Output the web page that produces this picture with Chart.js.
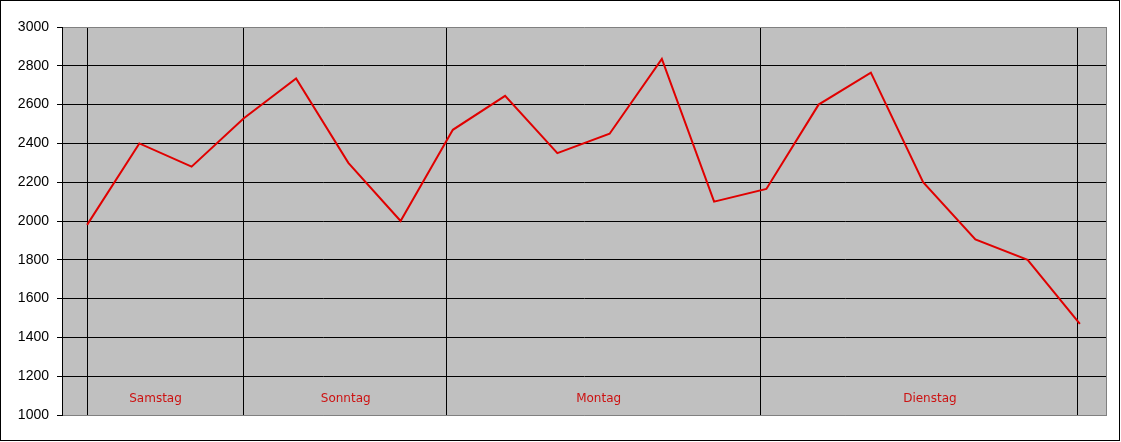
<!DOCTYPE html>
<html>
<head>
<meta charset="utf-8">
<script src="https://cdn.jsdelivr.net/npm/chart.js@4/dist/chart.umd.min.js"></script>
<style>
    html, body { margin: 0; padding: 0; background: #fff; }
    #wrap { width: 1121px; height: 442px; position: relative; }
</style>
</head>
<body>
<div id="wrap"><canvas id="chart" width="1121" height="442"></canvas></div>
<script>
// values, one per point (x = point index)
const values = [1980, 2400, 2280, 2530, 2735, 2300, 2000, 2470, 2645, 2350,
                2450, 2835, 2100, 2165, 2600, 2765, 2200, 1905, 1800, 1470];

// day separators and day labels, in point-index units
const dayBounds = [0, 3, 6.87, 12.88, 18.96];
const dayNames = ['Samstag', 'Sonntag', 'Montag', 'Dienstag'];
const dayLabelX = [1.31, 4.95, 9.79, 16.13];
const dayLabelY = 1085;

const yTicks = [1000, 1200, 1400, 1600, 1800, 2000, 2200, 2400, 2600, 2800, 3000];

const plotBg = {
    id: 'plotBg',
    beforeDraw(chart) {
        const { ctx, chartArea: a } = chart;
        ctx.save();
        ctx.fillStyle = '#fff';
        ctx.fillRect(0, 0, chart.width, chart.height);
        ctx.fillStyle = '#c0c0c0';
        ctx.fillRect(a.left, a.top, a.right - a.left, a.bottom - a.top);
        ctx.restore();
    },
    afterDraw(chart) {
        const { ctx, chartArea: a } = chart;
        ctx.save();
        // right edge of the plot
        ctx.strokeStyle = '#808080';
        ctx.lineWidth = 1;
        ctx.beginPath();
        ctx.moveTo(Math.round(a.right) + 0.5, a.top);
        ctx.lineTo(Math.round(a.right) + 0.5, a.bottom);
        ctx.stroke();
        // outer frame
        ctx.strokeStyle = '#000';
        ctx.strokeRect(0.5, 0.5, chart.width - 2, chart.height - 2);
        ctx.restore();
    }
};

const dayLabels = {
    id: 'dayLabels',
    afterDatasetsDraw(chart) {
        const { ctx, scales: { x, y } } = chart;
        ctx.save();
        ctx.font = '12px "DejaVu Sans"';
        ctx.fillStyle = '#cc1111';
        ctx.textAlign = 'center';
        ctx.textBaseline = 'middle';
        dayNames.forEach((n, i) => {
            ctx.fillText(n, x.getPixelForValue(dayLabelX[i]), y.getPixelForValue(dayLabelY));
        });
        ctx.restore();
    }
};

new Chart(document.getElementById('chart'), {
    type: 'line',
    data: {
        datasets: [{
            data: values.map((v, i) => ({ x: i, y: v })),
            borderColor: '#e00000',
            borderWidth: 2,
            pointRadius: 0,
            tension: 0,
            fill: false
        }]
    },
    options: {
        responsive: false,
        animation: false,
        layout: { padding: { top: 27, right: 15, bottom: 27, left: 0 } },
        plugins: { legend: { display: false }, tooltip: { enabled: false } },
        scales: {
            x: {
                type: 'linear',
                min: -0.48,
                max: 19.5,
                afterBuildTicks: s => { s.ticks = dayBounds.map(v => ({ value: v })); },
                afterFit: s => { s.height = 0; },
                ticks: { display: false },
                grid: { color: '#000', lineWidth: 1, drawTicks: false },
                border: { color: '#808080' }
            },
            y: {
                min: 1000,
                max: 3000,
                afterBuildTicks: s => { s.ticks = yTicks.map(v => ({ value: v })); },
                afterFit: s => { s.width = 62; },
                ticks: {
                    color: '#000',
                    padding: 8,
                    callback: v => String(v),
                    font: { family: '"Liberation Sans", Arial', size: 14 }
                },
                grid: {
                    color: c => (c.tick && (c.tick.value === 3000 || c.tick.value === 1000)) ? '#808080' : '#000',
                    tickColor: '#000',
                    tickLength: 5,
                    lineWidth: 1
                },
                border: { color: '#000' }
            }
        }
    },
    plugins: [plotBg, dayLabels]
});
</script>
</body>
</html>
